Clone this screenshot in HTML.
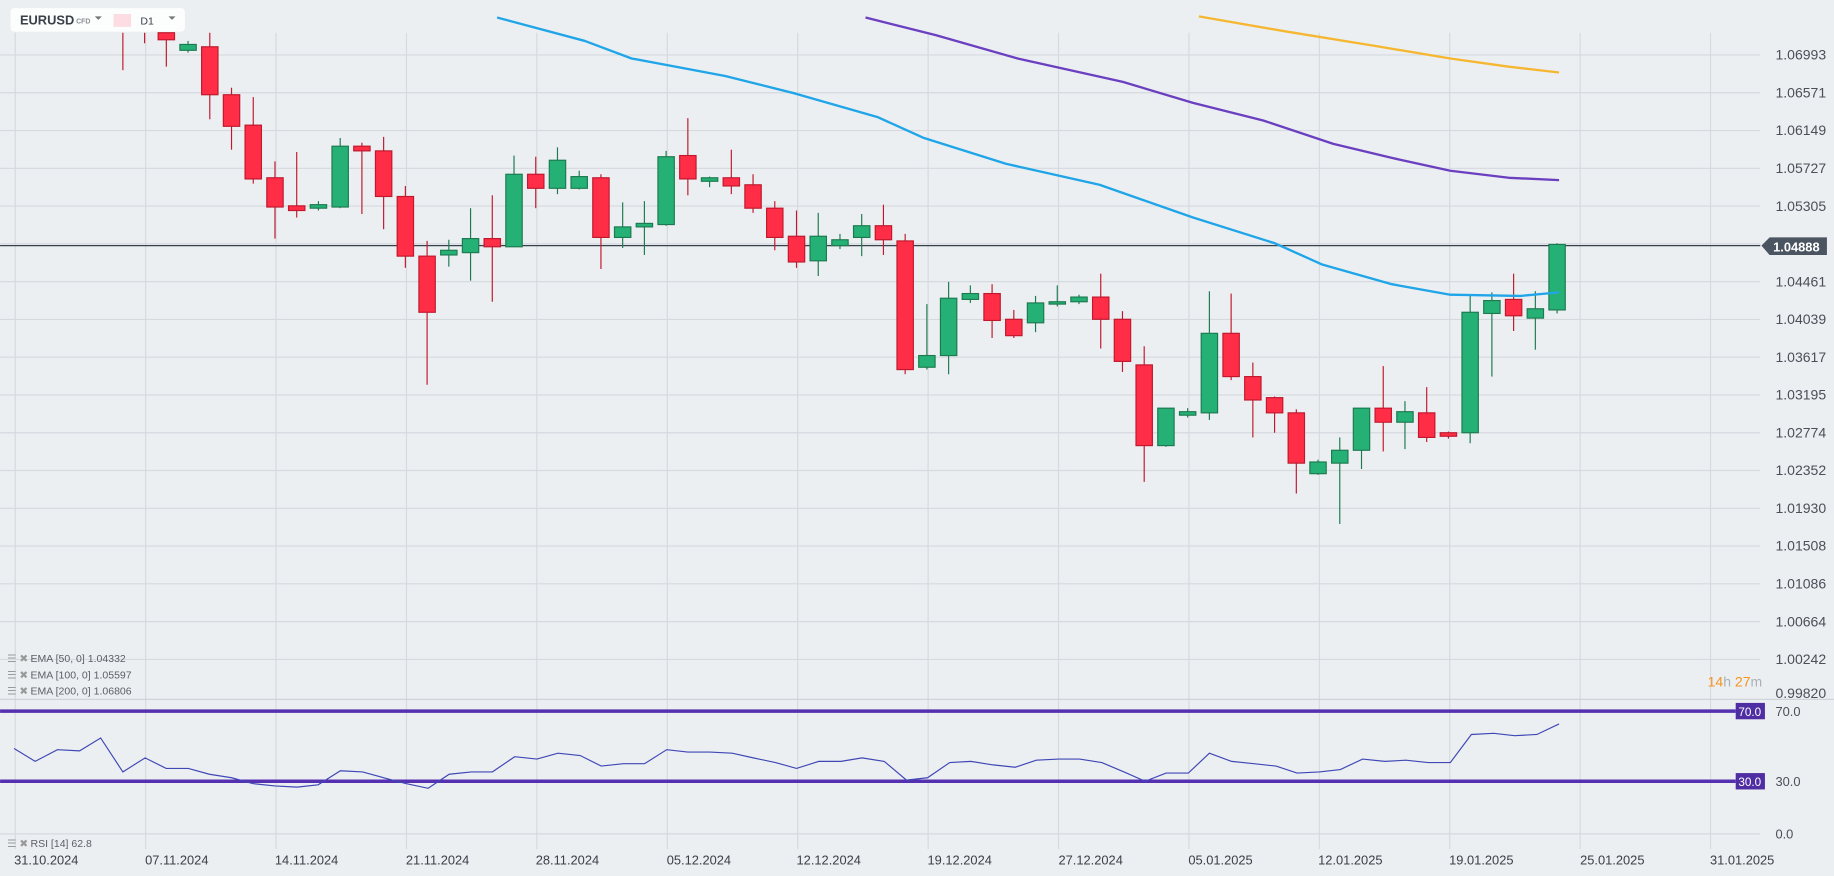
<!DOCTYPE html>
<html><head><meta charset="utf-8"><style>
html,body{margin:0;padding:0;background:#eceff2;overflow:hidden}
svg{display:block;font-family:"Liberation Sans",sans-serif}
</style></head><body>
<svg id="s" width="1834" height="876" viewBox="0 0 1568 749" xmlns="http://www.w3.org/2000/svg">
<rect width="1568" height="749" fill="#eceff2"/>
<g id="grid" stroke="#d5dadf" stroke-width="1"></g>
<line x1="0" y1="598" x2="1568" y2="598" stroke="#cfd4d9" stroke-width="1"/>
<line x1="0" y1="210" x2="1505" y2="210" stroke="#37424d" stroke-width="1"/>
<g id="candles"></g>
<g id="emas" fill="none" stroke-width="2"></g>
<!-- RSI -->
<line x1="0" y1="608" x2="1484" y2="608" stroke="#5530b0" stroke-width="3"/>
<line x1="0" y1="668" x2="1484" y2="668" stroke="#5530b0" stroke-width="3"/>
<rect x="1484" y="601" width="25" height="14" fill="#4f2ea3"/>
<rect x="1484" y="661" width="25" height="14" fill="#4f2ea3"/>
<text x="1496" y="612" font-size="10" fill="#fff" text-anchor="middle">70.0</text>
<text x="1496" y="672" font-size="10" fill="#fff" text-anchor="middle">30.0</text>
<polyline id="rsi" fill="none" stroke="#3f47b5" stroke-width="1"/>
<!-- price axis -->
<g id="pax" font-size="12" fill="#4a5058"></g>
<path d="M1506 210 L1513 203 L1562 203 L1562 218 L1513 218 Z" fill="#4a5561"/>
<text x="1516" y="215" font-size="11" fill="#fff" font-weight="bold">1.04888</text>
<text x="1518" y="612" font-size="11" fill="#4a5058">70.0</text>
<text x="1518" y="672" font-size="11" fill="#4a5058">30.0</text>
<text x="1518" y="717" font-size="11" fill="#4a5058">0.0</text>
<text x="1460" y="587" font-size="12"><tspan fill="#f7931e">14</tspan><tspan fill="#aab0b6">h</tspan><tspan fill="#f7931e"> 27</tspan><tspan fill="#aab0b6">m</tspan></text>
<!-- dates -->
<g font-size="11" fill="#3a4048">
<text x="12" y="739">31.10.2024</text><text x="124" y="739">07.11.2024</text><text x="235" y="739">14.11.2024</text>
<text x="347" y="739">21.11.2024</text><text x="458" y="739">28.11.2024</text><text x="570" y="739">05.12.2024</text>
<text x="681" y="739">12.12.2024</text><text x="793" y="739">19.12.2024</text><text x="905" y="739">27.12.2024</text>
<text x="1016" y="739">05.01.2025</text><text x="1127" y="739">12.01.2025</text><text x="1239" y="739">19.01.2025</text>
<text x="1351" y="739">25.01.2025</text><text x="1462" y="739">31.01.2025</text>
</g>
<!-- legends -->
<g font-size="9" fill="#5a6068">
<text x="6" y="566" fill="#999">☰ ✖</text><text x="26" y="566">EMA [50, 0] 1.04332</text>
<text x="6" y="580" fill="#999">☰ ✖</text><text x="26" y="580">EMA [100, 0] 1.05597</text>
<text x="6" y="594" fill="#999">☰ ✖</text><text x="26" y="594">EMA [200, 0] 1.06806</text>
<text x="6" y="724" fill="#999">☰ ✖</text><text x="26" y="724">RSI [14] 62.8</text>
</g>
<!-- top widget -->
<rect x="9" y="7" width="149" height="20" rx="3" fill="#fff" opacity="0.85"/>
<text x="17" y="21" font-size="11" font-weight="bold" fill="#3a4148">EURUSD</text>
<text x="65" y="20" font-size="6" font-weight="bold" fill="#8a9096">CFD</text>
<path d="M81 14 L87 14 L84 17 Z" fill="#777"/>
<rect x="97" y="12" width="15" height="11" fill="#fdd5da" opacity="0.8"/>
<text x="120" y="21" font-size="9" fill="#3a4148">D1</text>
<path d="M144 14 L150 14 L147 17 Z" fill="#777"/>
</svg>
<script>
const NS="http://www.w3.org/2000/svg";
function el(p,t,a){const e=document.createElementNS(NS,t);for(const k in a)e.setAttribute(k,a[k]);p.appendChild(e);return e;}
const g=document.getElementById('grid');
for(let k=0;k<18;k++){const y=47+32.3*k;if(y<596)el(g,'line',{x1:0,x2:1505,y1:y,y2:y});}
el(g,'line',{x1:0,x2:1505,y1:713,y2:713});
for(let k=0;k<14;k++){const x=13+111.5*k;el(g,'line',{x1:x,x2:x,y1:28,y2:726});}
const pax=document.getElementById('pax');
const labs=["1.06993","1.06571","1.06149","1.05727","1.05305","","1.04461","1.04039","1.03617","1.03195","1.02774","1.02352","1.01930","1.01508","1.01086","1.00664","1.00242"];
labs.forEach((l,k)=>{if(l){const t=el(pax,'text',{x:1518,y:51+32.3*k});t.textContent=l;}});
{const t=el(pax,'text',{x:1518,y:597});t.textContent="0.99820";}
const C=[["r",-20,20,20,60],["r",-20,-5,20,37],["r",20,34,10,57],["g",38,43,35,45],["r",40,81,26,102],["r",81,108,75,128],["r",107,153,83,157],["r",152,177,138,204],["r",176,180,130,186],["g",175,178,172,180],["g",125,177,118,178],["r",125,129,122,183],["r",129,168,117,196],["r",168,219,159,229],["r",219,267,206,329],["g",214,218,205,228],["g",204,216,178,240],["r",204,211,167,258],["g",149,211,133,211],["r",149,161,134,178],["g",137,161,126,166],["g",151,161,146,162],["r",152,203,149,230],["g",194,203,173,212],["g",191,194,172,218],["g",134,192,129,193],["r",133,153,101,167],["g",152,155,151,160],["r",152,159,128,166],["r",158,178,149,182],["r",178,203,172,214],["r",202,224,180,229],["g",202,223,182,236],["g",205,210,200,213],["g",193,203,183,219],["r",193,205,175,218],["r",206,316,200,320],["g",304,314,260,316],["g",255,304,241,320],["g",251,256,244,259],["r",251,274,243,289],["r",273,287,265,289],["g",259,276,253,284],["g",258,260,244,262],["g",254,258,252,260],["r",254,273,234,298],["r",273,309,266,318],["r",312,381,296,412],["g",349,381,349,382],["g",352,355,349,357],["g",285,353,249,359],["r",285,322,251,325],["r",322,342,310,374],["r",340,353,339,370],["r",353,396,350,422],["g",395,405,393,406],["g",385,396,374,448],["g",349,385,349,401],["r",349,361,313,386],["g",352,361,343,384],["r",353,374,331,378],["r",370,373,369,375],["g",267,370,253,379],["g",257,268,250,322],["r",256,270,234,283],["g",264,272,249,299],["g",209,265,208,268]];
const cg=document.getElementById('candles');
C.forEach((c,i)=>{const x=105+18.58*i;const fill=c[0]=="g"?"#25b175":"#ff2d46";const st=c[0]=="g"?"#1d7a50":"#c0182d";
el(cg,'line',{x1:x,x2:x,y1:Math.max(c[3],28),y2:c[4],stroke:st,'stroke-width':1});
if(c[2]>28)el(cg,'rect',{x:x-7,y:Math.max(c[1],28),width:14,height:Math.max(c[2]-Math.max(c[1],28),2),fill:fill,stroke:st,'stroke-width':1});});
const eg=document.getElementById('emas');
function pl(pts,col){el(eg,'polyline',{points:pts.map(p=>p.join(',')).join(' '),stroke:col,'stroke-linejoin':'round'});}
pl([[425,15],[500,35],[540,50],[620,65],[680,80],[750,100],[790,118],[860,140],[940,158],[1020,186],[1090,208],[1130,226],[1190,243],[1240,252],[1300,253],[1333,250]],"#1fa5e8");
pl([[740,15],[800,30],[870,50],[960,70],[1020,88],[1080,103],[1140,123],[1190,135],[1240,146],[1290,152],[1333,154]],"#6a3fc0");
pl([[1025,14],[1100,27],[1180,40],[1240,50],[1290,57],[1333,62]],"#f5b731");
const R=[[12,640],[30,651],[49,641],[68,642],[86,631],[105,660],[124,648],[142,657],[161,657],[179,662],[198,665],[216,670],[235,672],[254,673],[272,671],[291,659],[310,660],[328,665],[347,670],[366,674],[384,662],[403,660],[421,660],[440,647],[459,649],[477,644],[496,646],[514,655],[533,653],[551,653],[570,641],[588,643],[607,643],[626,644],[644,648],[663,652],[681,657],[700,651],[719,651],[737,648],[756,651],[775,667],[793,665],[812,652],[830,651],[849,654],[868,656],[886,650],[905,649],[923,649],[942,652],[961,660],[979,668],[997,661],[1016,661],[1034,644],[1053,651],[1072,653],[1091,655],[1109,661],[1128,660],[1146,658],[1165,649],[1184,651],[1202,650],[1221,652],[1240,652],[1258,628],[1277,627],[1295,629],[1314,628],[1333,619]];
document.getElementById('rsi').setAttribute('points',R.map(p=>p.join(',')).join(' '));
</script>
</body></html>
